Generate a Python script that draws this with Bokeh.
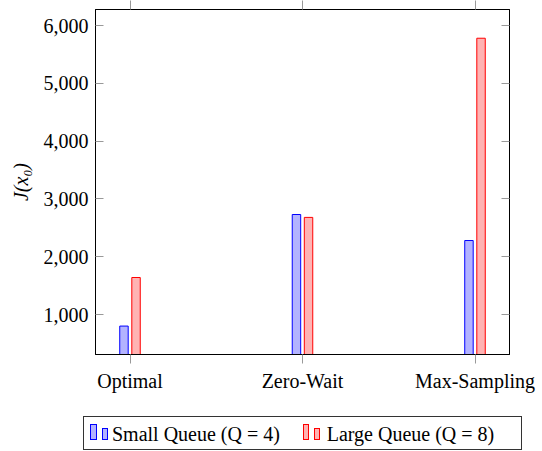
from bokeh.plotting import figure
from bokeh.models import (Range1d, FixedTicker, NumeralTickFormatter, LinearAxis,
                          ColumnDataSource, Div)
from bokeh.transform import dodge
from bokeh.layouts import column
from bokeh.embed import file_html
from bokeh.resources import INLINE

# ---- data ----
categories = ["Optimal", "Zero-Wait", "Max-Sampling"]
small_queue = [800, 2730, 2280]     # Small Queue (Q = 4)
large_queue = [1640, 2680, 5780]    # Large Queue (Q = 8)
y_ticks = [1000, 2000, 3000, 4000, 5000, 6000]
series_labels = ["Small Queue (Q = 4)", "Large Queue (Q = 8)"]
series_fill = ["#b3b3ff", "#ffb3b3"]
series_line = ["blue", "red"]

FONT = "Liberation Serif"
FS = "20px"
TICK_GRAY = "#999999"

src = ColumnDataSource(dict(x=list(range(len(categories))),
                            small=small_queue, large=large_queue))

p = figure(width=542, height=408, output_backend="svg", toolbar_location=None,
           x_range=Range1d(-0.2, 2.2), y_range=Range1d(308, 6277),
           min_border_left=95, min_border_right=33, min_border_top=9,
           min_border_bottom=54)
p.xgrid.visible = False
p.ygrid.visible = False
p.outline_line_color = "black"
p.outline_line_width = 1
p.background_fill_color = "white"
p.border_fill_color = "white"

p.vbar(x=dodge("x", -0.035, range=p.x_range), top="small", bottom=0,
       width=0.049, source=src, fill_color=series_fill[0], line_color=series_line[0],
       line_width=1)
p.vbar(x=dodge("x", 0.035, range=p.x_range), top="large", bottom=0,
       width=0.049, source=src, fill_color=series_fill[1], line_color=series_line[1],
       line_width=1)

# x axis
xa = p.xaxis[0]
xa.ticker = FixedTicker(ticks=list(range(len(categories))))
xa.major_label_overrides = {i: c for i, c in enumerate(categories)}
xa.major_tick_in = 0
xa.major_tick_out = 9
xa.major_tick_line_color = TICK_GRAY
xa.minor_tick_line_color = None
xa.axis_line_color = "black"
xa.major_label_standoff = 6
xa.major_label_text_font = FONT
xa.major_label_text_font_size = FS
xa.major_label_text_color = "black"

# top axis (ticks only)
ta = LinearAxis(ticker=FixedTicker(ticks=list(range(len(categories)))),
                major_tick_in=0, major_tick_out=9, major_tick_line_color=TICK_GRAY,
                minor_tick_line_color=None, axis_line_color="black",
                major_label_overrides={i: "" for i in range(len(categories))},
                major_label_text_font_size="1px", major_label_standoff=0)
p.add_layout(ta, "above")

# y axis
ya = p.yaxis[0]
ya.ticker = FixedTicker(ticks=y_ticks)
ya.formatter = NumeralTickFormatter(format="0,0")
ya.major_tick_in = 8
ya.major_tick_out = 0
ya.major_tick_line_color = TICK_GRAY
ya.minor_tick_line_color = None
ya.axis_line_color = "black"
ya.major_label_standoff = 7
ya.major_label_text_font = FONT
ya.major_label_text_font_size = FS
ya.major_label_text_color = "black"
ya.axis_label = "J(x\u2080)"
ya.axis_label_text_font = FONT
ya.axis_label_text_font_size = FS
ya.axis_label_text_font_style = "italic"
ya.axis_label_text_color = "black"
ya.axis_label_standoff = 9

# right axis (ticks only)
ra = LinearAxis(ticker=FixedTicker(ticks=y_ticks), major_tick_in=8, major_tick_out=0,
                major_tick_line_color=TICK_GRAY, minor_tick_line_color=None,
                axis_line_color="black",
                major_label_overrides={t: "" for t in y_ticks},
                major_label_text_font_size="1px", major_label_standoff=0)
p.add_layout(ra, "right")

# ---- legend below the axes: box with two small bar icons per entry ----
def bar_icon(left, top, w, h, fill, line):
    return (f'<div style="position:absolute;left:{left}px;top:{top}px;width:{w}px;'
            f'height:{h}px;background:{fill};border:1px solid {line};'
            f'box-sizing:border-box;"></div>')

def label_html(left, top, text):
    return (f'<div style="position:absolute;left:{left}px;top:{top}px;'
            f'font-family:\'{FONT}\';font-size:{FS};line-height:20px;color:black;'
            f'white-space:nowrap;">{text}</div>')

entries = [(6.0, 28.0), (218.7, 242.7)]   # icon / label offsets inside the box
inner = ""
for (ix, tx), lab, fill, line in zip(entries, series_labels, series_fill, series_line):
    inner += bar_icon(ix, 6.7, 6.7, 16.6, fill, line)
    inner += bar_icon(ix + 11.7, 11.0, 6.0, 12.3, fill, line)
    inner += label_html(tx, 6.6, lab)

legend_html = (
    '<div style="position:relative;width:542px;height:43px;background:white;">'
    '<div style="position:absolute;left:83px;top:8px;width:439px;height:34px;'
    'border:1px solid #333333;box-sizing:border-box;background:white;">'
    + inner + '</div></div>')

leg = Div(text=legend_html, width=542, height=43, margin=0)

layout = column(p, leg, spacing=0)
open("out.html", "w").write(file_html(layout, INLINE))
